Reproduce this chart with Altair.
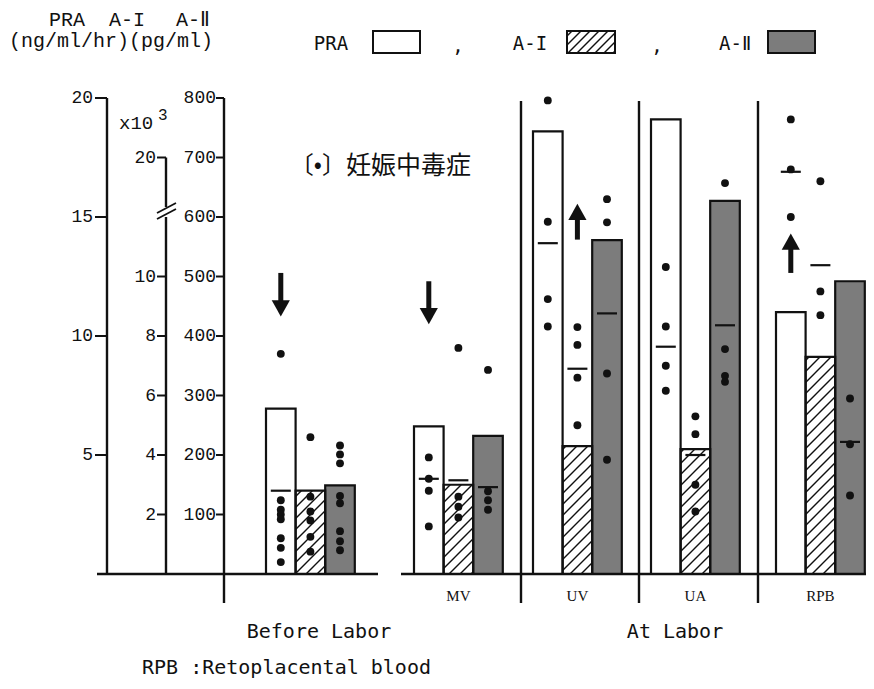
import altair as alt
import pandas as pd

# ---------------- data ----------------
groups = ["Before Labor", "MV", "UV", "UA", "RPB"]
series_names = ["PRA", "A-I", "A-II"]

# bar heights: PRA (ng/ml/hr), A-I (x10^3 pg/ml), A-II (pg/ml)
pra_bar = [6.95, 6.2, 18.6, 19.1, 11.0]
ai_bar = [2.8, 3.0, 4.3, 4.2, 7.3]
aii_bar = [149, 232, 561, 627, 492]

# mean dashes
pra_mean_groups = ["Before Labor", "MV", "UV", "UA", "RPB"]
pra_mean = [3.5, 4.0, 13.9, 9.55, 16.9]
ai_mean_groups = ["MV", "UV", "UA", "RPB"]
ai_mean = [3.15, 6.9, 4.0, 10.95]
aii_mean_groups = ["MV", "UV", "UA", "RPB"]
aii_mean = [146, 438, 418, 222]

# individual (toxaemia) cases
pra_dots = {
    "Before Labor": [9.25, 3.1, 2.7, 2.5, 2.3, 1.5, 1.1, 0.5],
    "MV": [4.9, 4.0, 3.5, 2.0],
    "UV": [19.9, 14.8, 11.55, 10.4],
    "UA": [12.9, 10.4, 8.75, 7.7],
    "RPB": [19.1, 17.0, 15.0],
}
ai_dots = {
    "Before Labor": [4.6, 2.6, 2.1, 1.8, 1.25, 0.75],
    "MV": [7.6, 2.6, 2.26, 1.9],
    "UV": [8.3, 7.7, 6.6, 5.0],
    "UA": [5.3, 4.7, 3.0, 2.1],
    "RPB": [18.0, 9.5, 8.7],
}
aii_dots = {
    "Before Labor": [216, 201, 186, 131, 119, 72, 55, 40],
    "MV": [343, 139, 124, 108],
    "UV": [630, 591, 337, 192],
    "UA": [657, 378, 333, 323],
    "RPB": [295, 218, 132],
}

# arrows: group, series, direction, tail, tip (in A-II plot units)
arrow_groups = ["Before Labor", "MV", "UV", "RPB"]
arrow_series = ["PRA", "PRA", "A-I", "PRA"]
arrow_dir = ["down", "down", "up", "up"]
arrow_tail = [506, 492, 562, 506]
arrow_tip = [433, 420, 622, 572]

pra_ticks = [5, 10, 15, 20]
ai_ticks = [2, 4, 6, 8, 10, 20]
aii_ticks = [100, 200, 300, 400, 500, 600, 700, 800]

sub_labels = ["MV", "UV", "UA", "RPB"]

# ---------------- unit conversion onto the common (A-II) scale ----------------
def v_pra(p):
    return p * 40.0

def v_ai(a):
    return a * 50.0 if a <= 10 else 500.0 + (a - 10) * 20.0

def v_aii(x):
    return float(x)

conv = {"PRA": v_pra, "A-I": v_ai, "A-II": v_aii}

# ---------------- layout ----------------
W, H = 858, 673
Y_BASE, Y_800 = 574, 98          # page pixels
PXU = (Y_BASE - Y_800) / 800.0

def vy(ypx):                     # page y -> plot units
    return (Y_BASE - ypx) / PXU

group_left = [266, 414, 533, 651, 776]
BAR_W = 29.6
separators = [521, 639, 758]
X_PRA, X_AI, X_AII = 107, 166, 224

xs = alt.Scale(domain=[8, 8 + W], range=[0, W], nice=False, zero=False)
ys = alt.Scale(domain=[0, 800], range=[Y_BASE - 8, Y_800 - 8], nice=False, zero=False)

def bar_x(g, s):
    gi = groups.index(g)
    si = series_names.index(s)
    return group_left[gi] + si * BAR_W

def bar_c(g, s):
    return bar_x(g, s) + BAR_W / 2

FONT_MONO = "Liberation Mono"
FONT_DOT = "DejaVu Sans Mono"
INK = "#111111"
STIPPLE = "#7c7c7c"

X = lambda f="x": alt.X(f"{f}:Q", scale=xs, axis=None)
Y = lambda f="y": alt.Y(f"{f}:Q", scale=ys, axis=None)

def rules(rows, width=2.0):
    df = pd.DataFrame(rows, columns=["x", "x2", "y", "y2"])
    return alt.Chart(df).mark_rule(strokeWidth=width, color=INK, strokeCap="butt").encode(
        x=X(), x2="x2:Q", y=Y(), y2="y2:Q")

def texts(rows, font, size, align="center", weight="normal", baseline="middle"):
    df = pd.DataFrame(rows, columns=["x", "y", "text"])
    return alt.Chart(df).mark_text(font=font, fontSize=size, align=align, baseline=baseline,
                                   fontWeight=weight, color=INK).encode(
        x=X(), y=Y(), text="text:N")

def hatch_rows(x0, x1, vtop, vbot, step=11.0):
    ytop = Y_BASE - vtop * PXU
    ybot = Y_BASE - vbot * PXU
    out = []
    k = int((x0 + ytop) // step)
    while k * step < x1 + ybot:
        c = k * step
        ylo = max(ytop, c - x1)
        yhi = min(ybot, c - x0)
        if yhi - ylo > 1.0:
            out.append([c - ylo, c - yhi, vy(ylo), vy(yhi)])
        k += 1
    return out

layers = []

# ---------------- bars ----------------
bar_rows = []
for gi, g in enumerate(groups):
    vals = [pra_bar[gi], ai_bar[gi], aii_bar[gi]]
    for si, s in enumerate(series_names):
        x0 = bar_x(g, s)
        bar_rows.append({"series": s, "x": x0, "x2": x0 + BAR_W, "y": conv[s](vals[si]), "y2": 0.0})
bars_df = pd.DataFrame(bar_rows)

fill_scale = alt.Scale(domain=series_names, range=["white", "white", STIPPLE])
layers.append(alt.Chart(bars_df).mark_rect(strokeWidth=0).encode(
    x=X(), x2="x2:Q", y=Y(), y2="y2:Q",
    fill=alt.Fill("series:N", scale=fill_scale, legend=None)))

# hatch for A-I bars
h_rows = []
for r in bar_rows:
    if r["series"] == "A-I":
        h_rows += hatch_rows(r["x"], r["x2"], r["y"], 0.0)
layers.append(rules(h_rows, 1.4))

layers.append(alt.Chart(bars_df).mark_rect(fillOpacity=0, stroke=INK, strokeWidth=2.2).encode(
    x=X(), x2="x2:Q", y=Y(), y2="y2:Q"))

# ---------------- axes (drawn on the shared scale) ----------------
ax_rows = [
    [X_PRA, X_PRA, 0, 800],
    [X_AII, X_AII, vy(603), 800],
    [X_AI, X_AI, 0, vy(217)],
    [X_AI, X_AI, vy(207), 700],
    [97, 378, 0, 0],
    [401, 872, 0, 0],
]
for sx in separators:
    ax_rows.append([sx, sx, vy(603), vy(101)])
layers.append(rules(ax_rows, 2.4))
# axis break slashes
layers.append(rules([[157, 176, vy(213), vy(203)], [157, 176, vy(219), vy(209)]], 1.8))

tick_rows, lab_pra, lab_ai, lab_aii = [], [], [], []
for t in pra_ticks:
    tick_rows.append([X_PRA - 12, X_PRA, v_pra(t), v_pra(t)])
    lab_pra.append([X_PRA - 14, v_pra(t), str(t)])
for t in ai_ticks:
    tick_rows.append([X_AI - 9, X_AI, v_ai(t), v_ai(t)])
    lab_ai.append([X_AI - 10, v_ai(t), str(t)])
for t in aii_ticks:
    tick_rows.append([X_AII - 8, X_AII, v_aii(t), v_aii(t)])
    lab_aii.append([X_AII - 8, v_aii(t), str(t)])
layers.append(rules(tick_rows, 2.0))
layers.append(texts(lab_pra + lab_ai + lab_aii, FONT_MONO, 18, align="right"))
layers.append(texts([[119, vy(123), "x10"]], FONT_MONO, 19, align="left"))
layers.append(texts([[158, vy(115), "3"]], FONT_MONO, 16, align="left"))

# ---------------- dots and means ----------------
dot_rows = []
for s, d in zip(series_names, [pra_dots, ai_dots, aii_dots]):
    for g, vals in d.items():
        for val in vals:
            dot_rows.append({"x": bar_c(g, s), "y": conv[s](val)})
layers.append(alt.Chart(pd.DataFrame(dot_rows)).mark_circle(size=62, color=INK, opacity=1).encode(
    x=X(), y=Y()))

mean_rows = []
for s, gl, vl in [("PRA", pra_mean_groups, pra_mean), ("A-I", ai_mean_groups, ai_mean),
                  ("A-II", aii_mean_groups, aii_mean)]:
    for g, val in zip(gl, vl):
        c = bar_c(g, s)
        mean_rows.append([c - 10, c + 10, conv[s](val), conv[s](val)])
layers.append(rules(mean_rows, 2.2))

# ---------------- arrows ----------------
shaft_rows, head_rows = [], []
for g, s, d, tail, tip in zip(arrow_groups, arrow_series, arrow_dir, arrow_tail, arrow_tip):
    c = bar_c(g, s)
    off = 8 / PXU
    hc = tip + off if d == "down" else tip - off
    shaft_rows.append([c, c, tail, hc])
    head_rows.append({"x": c, "y": hc, "dir": d})
layers.append(rules(shaft_rows, 5))
heads = pd.DataFrame(head_rows)
layers.append(alt.Chart(heads).mark_point(filled=True, color=INK, opacity=1, strokeWidth=0).encode(
    x=X(), y=Y(),
    shape=alt.Shape("dir:N", scale=alt.Scale(domain=["down", "up"],
                    range=["M-1,-0.9L1,-0.9L0,0.9Z", "M-1,0.9L1,0.9L0,-0.9Z"]), legend=None),
    size=alt.value(330)))

# ---------------- legend (top) ----------------
leg_y0, leg_y1 = vy(53), vy(31)
leg_boxes = [[373, 420], [567, 615], [768, 815]]
layers.append(alt.Chart(pd.DataFrame({"series": series_names,
                                      "x": [b[0] for b in leg_boxes],
                                      "x2": [b[1] for b in leg_boxes],
                                      "y": [leg_y0] * 3, "y2": [leg_y1] * 3})).mark_rect(
    stroke=INK, strokeWidth=2).encode(
    x=X(), x2="x2:Q", y=Y(), y2="y2:Q",
    fill=alt.Fill("series:N", scale=fill_scale, legend=None)))
layers.append(rules(hatch_rows(leg_boxes[1][0], leg_boxes[1][1], leg_y1, leg_y0, 9.0), 1.4))
layers.append(alt.Chart(pd.DataFrame({"x": [b[0] for b in leg_boxes], "x2": [b[1] for b in leg_boxes],
                                      "y": [leg_y0] * 3, "y2": [leg_y1] * 3})).mark_rect(
    fillOpacity=0, stroke=INK, strokeWidth=2).encode(x=X(), x2="x2:Q", y=Y(), y2="y2:Q"))
layers.append(texts([[331, vy(44), "PRA"], [458, vy(46), ","], [530, vy(44), "A-I"],
                     [657, vy(46), ","], [735, vy(44), "A-Ⅱ"]], FONT_DOT, 19))

# ---------------- header (axis units) ----------------
layers.append(texts([[67, vy(20), "PRA"], [127, vy(20), "A-I"], [193, vy(20), "A-Ⅱ"]], FONT_MONO, 20))
layers.append(texts([[9, vy(41), "(ng/ml/hr)(pg/ml)"]], FONT_MONO, 20, align="left"))

# ---------------- annotation ----------------
layers.append(texts([[346, vy(166), "〔•〕"]], "Noto Sans CJK JP", 24, align="right"))
layers.append(texts([[346, vy(166), "妊娠中毒症"]], "Noto Sans CJK JP", 25, align="left"))

# ---------------- bottom labels ----------------
sub_x = [(group_left[i] + 1.5 * BAR_W) for i in range(1, 5)]
layers.append(texts([[x, vy(596), t] for x, t in zip(sub_x, sub_labels)], "Liberation Serif", 15))
layers.append(texts([[319, vy(632), "Before Labor"], [675, vy(632), "At Labor"]], FONT_DOT, 20))
layers.append(texts([[142, vy(668), "RPB :Retoplacental blood"]], FONT_DOT, 20, align="left"))

chart = alt.layer(*layers).properties(
    width=W, height=H, padding=0,
    autosize=alt.AutoSizeParams(type="none"),
    background="white",
).configure_view(stroke=None)

chart.save("out.html", embed_options={"renderer": "svg", "actions": False})
